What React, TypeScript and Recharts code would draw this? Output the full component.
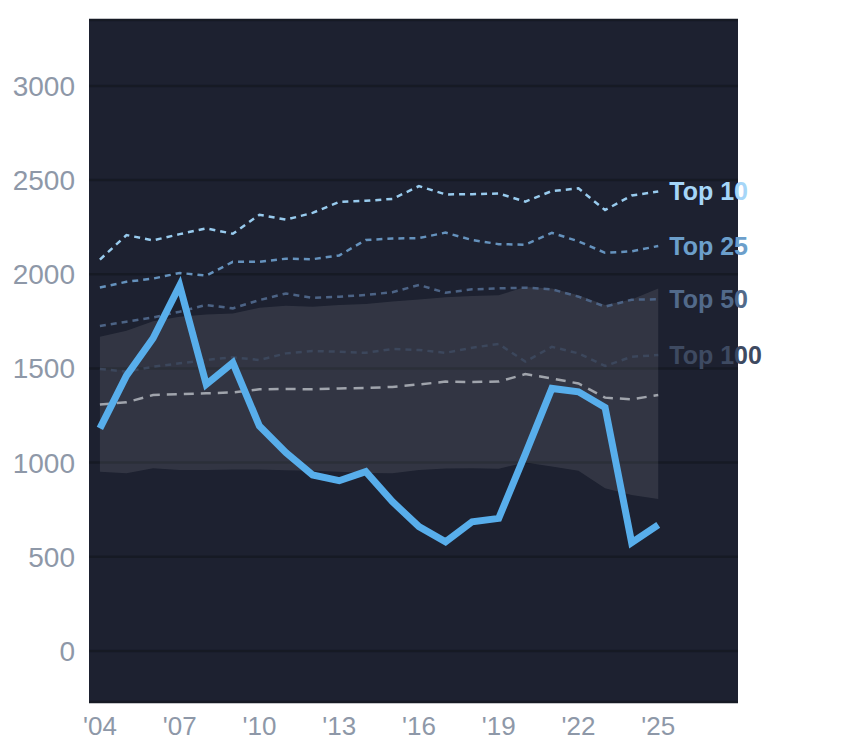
import { ComposedChart, Area, Line, XAxis, YAxis, CartesianGrid, LabelList } from 'recharts'

// data
const years = [2004, 2005, 2006, 2007, 2008, 2009, 2010, 2011, 2012, 2013, 2014, 2015, 2016, 2017, 2018, 2019, 2020, 2021, 2022, 2023, 2024, 2025]
const mainValues = [1182, 1462, 1660, 1940, 1415, 1530, 1194, 1053, 934, 904, 952, 793, 660, 580, 686, 704, 1045, 1394, 1376, 1293, 575, 669]
const bandLow = [952, 943, 970, 961, 961, 963, 963, 960, 957, 952, 945, 943, 961, 969, 970, 968, 1000, 979, 957, 864, 828, 807]
const bandHigh = [1668, 1700, 1751, 1774, 1787, 1792, 1822, 1833, 1828, 1837, 1842, 1856, 1866, 1878, 1884, 1889, 1932, 1925, 1889, 1837, 1866, 1925]
const top10 = [2078, 2208, 2180, 2213, 2244, 2215, 2316, 2290, 2326, 2384, 2390, 2400, 2468, 2424, 2425, 2429, 2386, 2442, 2456, 2341, 2418, 2440]
const top25 = [1930, 1960, 1977, 2007, 1993, 2066, 2066, 2083, 2080, 2100, 2182, 2190, 2192, 2221, 2182, 2160, 2157, 2220, 2175, 2114, 2122, 2150]
const top50 = [1725, 1748, 1771, 1801, 1837, 1819, 1863, 1898, 1875, 1881, 1890, 1905, 1943, 1902, 1920, 1925, 1929, 1920, 1881, 1828, 1865, 1867]
const top100 = [1497, 1483, 1509, 1527, 1545, 1559, 1545, 1580, 1592, 1589, 1583, 1603, 1598, 1583, 1610, 1630, 1536, 1615, 1580, 1513, 1562, 1571]
const median = [1309, 1320, 1359, 1363, 1368, 1373, 1389, 1391, 1389, 1394, 1396, 1402, 1415, 1430, 1428, 1430, 1470, 1447, 1420, 1345, 1336, 1359]

const xTicks = [2004, 2007, 2010, 2013, 2016, 2019, 2022, 2025]
const yTicks = [0, 500, 1000, 1500, 2000, 2500, 3000]

const rankLines = [
  { key: 'top10', name: 'Top 10', stroke: '#98cbee', labelColor: '#a6d6f8' },
  { key: 'top25', name: 'Top 25', stroke: '#6592bd', labelColor: '#6c9fcb' },
  { key: 'top50', name: 'Top 50', stroke: '#4c6385', labelColor: '#526a8a' },
  { key: 'top100', name: 'Top 100', stroke: '#3c475c', labelColor: '#3e4a61' },
]

const data = years.map((year, i) => ({
  year,
  main: mainValues[i],
  band: [bandLow[i], bandHigh[i]],
  top10: top10[i],
  top25: top25[i],
  top50: top50[i],
  top100: top100[i],
  median: median[i],
}))

const font = '"Liberation Sans", Arial, sans-serif'
const last = years.length - 1

export default function App() {
  return (
    <div style={{ position: 'absolute', left: 0, top: 0, width: 844, height: 748, background: '#fff' }}>
      <ComposedChart width={844} height={748} data={data} margin={{ top: 20, right: 106, bottom: 0, left: 0 }}>
        <CartesianGrid vertical={false} fill="#1d2130" stroke="#161a24" strokeWidth={2.5} />
        <XAxis
          type="number"
          dataKey="year"
          domain={[2003.59, 2028]}
          ticks={xTicks}
          tickFormatter={(y) => `'${String(y).slice(2)}`}
          axisLine={false}
          tickLine={false}
          tickMargin={9}
          height={46}
          tick={{ fill: '#8e98a8', fontSize: 26, fontFamily: font }}
        />
        <YAxis
          domain={[-271, 3350]}
          ticks={yTicks}
          axisLine={false}
          tickLine={false}
          tickMargin={8}
          width={89}
          tick={{ fill: '#8e98a8', fontSize: 28, fontFamily: font }}
        />
        <Area
          dataKey="band"
          type="linear"
          stroke="none"
          fill="#ffffff"
          fillOpacity={0.095}
          isAnimationActive={false}
        />
        {rankLines.map((r) => (
          <Line
            key={r.key}
            dataKey={r.key}
            type="linear"
            stroke={r.stroke}
            strokeWidth={2.5}
            strokeDasharray="6 5"
            dot={false}
            activeDot={false}
            isAnimationActive={false}
          >
            <LabelList
              dataKey={r.key}
              content={(p: any) =>
                p.index === last ? (
                  <text
                    x={p.x + 11}
                    y={p.y}
                    dy="0.35em"
                    fill={r.labelColor}
                    fontSize={25}
                    fontWeight="bold"
                    fontFamily={font}
                  >
                    {r.name}
                  </text>
                ) : null
              }
            />
          </Line>
        ))}
        <Line
          dataKey="median"
          type="linear"
          stroke="#a0a4ac"
          strokeWidth={2.5}
          strokeDasharray="10 7"
          dot={false}
          activeDot={false}
          isAnimationActive={false}
        />
        <Line
          dataKey="main"
          type="linear"
          stroke="#58aeeb"
          strokeWidth={7}
          dot={false}
          activeDot={false}
          isAnimationActive={false}
        />
      </ComposedChart>
    </div>
  )
}
